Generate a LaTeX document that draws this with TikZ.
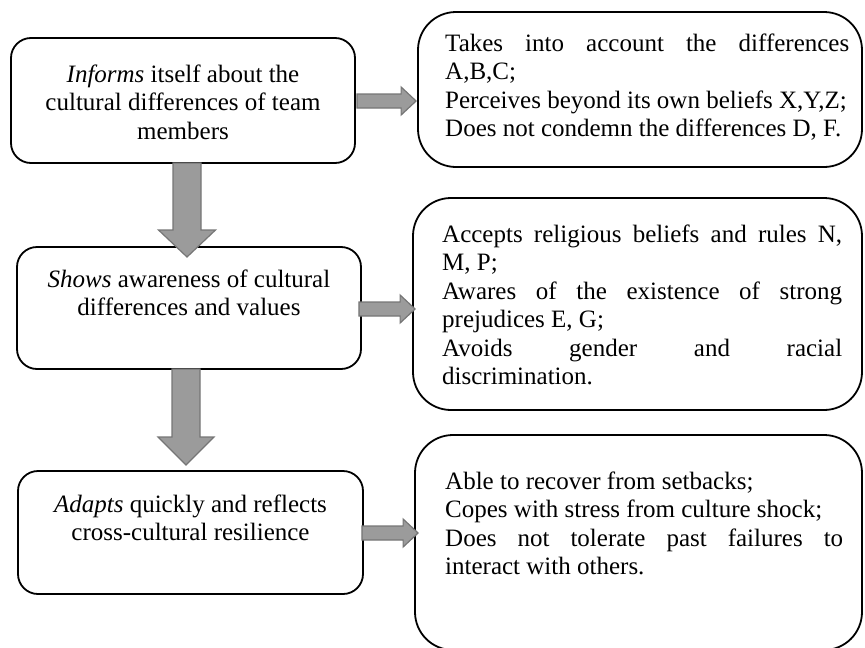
\documentclass[tikz,border=0pt]{standalone}
\usepackage{fontspec}
\setmainfont{Liberation Serif}
\usetikzlibrary{calc}
\definecolor{arrfill}{RGB}{155,155,155}
\definecolor{arrline}{RGB}{118,118,118}
% horizontal block arrow: from, to, shaft half, head half, head length
\newcommand\myharrow[5]{%
  \draw[blockarrow] let \p1=(#1), \p2=(#2) in
    ({\x1},{\y1+#3}) -- ({\x2-#5},{\y1+#3}) -- ({\x2-#5},{\y1+#4}) -- (\x2,\y1)
    -- ({\x2-#5},{\y1-#4}) -- ({\x2-#5},{\y1-#3}) -- ({\x1},{\y1-#3}) -- cycle;}
% vertical (downward) block arrow
\newcommand\myvarrow[5]{%
  \draw[blockarrow] let \p1=(#1), \p2=(#2) in
    ({\x1-#3},{\y1}) -- ({\x1-#3},{\y2+#5}) -- ({\x1-#4},{\y2+#5}) -- (\x1,\y2)
    -- ({\x1+#4},{\y2+#5}) -- ({\x1+#3},{\y2+#5}) -- ({\x1+#3},{\y1}) -- cycle;}
\tikzset{
  leftbox/.style={draw, line width=1.8pt, fill=white, rounded corners=20pt, inner sep=0pt},
  rightbox/.style={draw, line width=1.8pt, fill=white, rounded corners=38pt, inner sep=0pt},
  lefttext/.style={anchor=north, inner sep=0pt, align=center,
    font=\fontsize{25}{28.5}\selectfont},
  righttext/.style={anchor=north west, inner sep=0pt, align=justify,
    font=\fontsize{25}{28.5}\selectfont,
    execute at begin node={\tolerance=10000\relax\hbadness=10000\relax}},
  blockarrow/.style={draw=arrline, fill=arrfill, line width=1.2pt, line join=miter},
}
\begin{document}
\begin{tikzpicture}[x=1pt,y=-1pt]
\useasboundingbox (0,0) rectangle (865,648);
% left boxes
\node[leftbox, minimum width=344pt, minimum height=125pt] (b1) at (183,100.5) {};
\node[leftbox, minimum width=344pt, minimum height=122pt] (b2) at (189,308) {};
\node[leftbox, minimum width=345pt, minimum height=123pt] (b3) at (190.5,532.5) {};
% right boxes
\node[rightbox, minimum width=444pt, minimum height=155pt] (r1) at (640,89.5) {};
\node[rightbox, minimum width=449pt, minimum height=212pt] (r2) at (637.5,304) {};
\node[rightbox, minimum width=447pt, minimum height=215pt] (r3) at (638.5,542.5) {};
% texts
\node[lefttext] (t1) at (183,{82-19.95}) {\strut\textit{Informs} itself about the\\cultural differences of team\\members};
\node[lefttext] (t2) at (189,{287-19.95}) {\strut\textit{Shows} awareness of cultural\\differences and values};
\node[lefttext] (t3) at (190.5,{512-19.95}) {\strut\textit{Adapts} quickly and reflects\\cross-cultural resilience};
\node[righttext, text width=404pt] (u1) at (445,{51-19.95}) {\strut Takes into account the differences\linebreak A,B,C;\\Perceives beyond its own beliefs X,Y,Z;\\Does not condemn the differences D, F.};
\node[righttext, text width=400pt] (u2) at (442,{242-19.95}) {\strut Accepts religious beliefs and rules N,\linebreak M, P;\\Awares of the existence of strong\linebreak prejudices E, G;\\Avoids gender and racial\linebreak discrimination.};
\node[righttext, text width=398pt] (u3) at (445,{489-19.95}) {\strut Able to recover from setbacks;\\Copes with stress from culture shock;\\Does not tolerate past failures to\linebreak interact with others.};
% arrow end points
\coordinate (h1a) at ($(b1.east |- 0,101)+(1,0)$);
\coordinate (h1b) at ($(r1.west |- 0,101)+(-1,0)$);
\coordinate (h2a) at ($(b2.east |- 0,309)+(-3,0)$);
\coordinate (h2b) at ($(r2.west |- 0,309)+(3,0)$);
\coordinate (h3a) at ($(b3.east |- 0,533)+(-2,0)$);
\coordinate (h3b) at ($(r3.west |- 0,533)+(4,0)$);
\coordinate (v1a) at (187,163);
\coordinate (v1b) at (187,257);
\coordinate (v2a) at (186,369);
\coordinate (v2b) at (186,465);
% arrows
\myharrow{h1a}{h1b}{7pt}{14pt}{15pt}
\myharrow{h2a}{h2b}{7pt}{14pt}{15pt}
\myharrow{h3a}{h3b}{7pt}{14pt}{15pt}
\myvarrow{v1a}{v1b}{14pt}{28.5pt}{27pt}
\myvarrow{v2a}{v2b}{14pt}{28pt}{28pt}
\end{tikzpicture}
\end{document}
